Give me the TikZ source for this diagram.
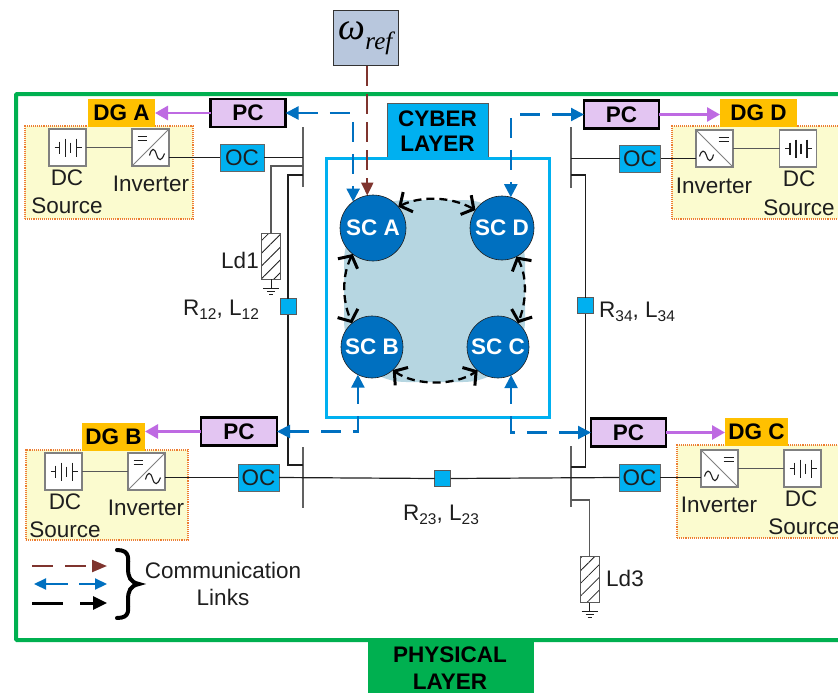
\documentclass[tikz,border=0pt]{standalone}
\usepackage{fontspec}
\setmainfont{Liberation Sans}
\newfontfamily\serifom{Liberation Serif}
\usetikzlibrary{arrows.meta,patterns.meta,calc}
\definecolor{grn}{HTML}{00B050}
\definecolor{cyn}{HTML}{00B0F0}
\definecolor{sc}{HTML}{0070C0}
\definecolor{blob}{HTML}{B6D6E1}
\definecolor{pur}{HTML}{BE6AE2}
\definecolor{pcfill}{HTML}{E3C5F2}
\definecolor{dgfill}{HTML}{FFC000}
\definecolor{yel}{HTML}{FBFBCF}
\definecolor{org}{HTML}{ED7D31}
\definecolor{brn}{HTML}{7F342E}
\definecolor{refbox}{HTML}{B8C7DD}
\definecolor{ink}{HTML}{1E1E1E}
\newcommand{\fsz}{\fontsize{22.5}{24}\selectfont}
\newcommand{\sbs}[1]{\raisebox{-3.5pt}{\fontsize{15.5}{16}\selectfont #1}}
\newcommand{\batt}[1]{%
  \begin{scope}[shift={(#1.center)},line width=1.1pt,draw=ink]
    \draw (-13,0) -- (-8,0) (-8,-6) -- (-8,6) (-2,-9) -- (-2,9) (3,-5) -- (3,5) (9,-9) -- (9,9) (9,0) -- (14,0);
  \end{scope}}
\newcommand{\invL}[1]{%
  \begin{scope}[shift={(#1.center)},line width=1pt,draw=ink]
    \draw[gray] (#1.south west) -- (#1.north east);
    \draw[line width=1.4pt] (-13,-11) -- (-4,-11) (-13,-7) -- (-4,-7);
    \draw[line width=1.1pt] (-1,8) .. controls (1,0) and (4,0) .. (6,7) .. controls (8,14) and (11,14) .. (14,6);
  \end{scope}}
\newcommand{\invR}[1]{%
  \begin{scope}[shift={(#1.center)},line width=1pt,draw=ink]
    \draw[gray] (#1.north west) -- (#1.south east);
    \draw[line width=1.4pt] (4,-11) -- (14,-11) (4,-7) -- (14,-7);
    \draw[line width=1.1pt] (-15,8) .. controls (-13,1) and (-10,1) .. (-8,7) .. controls (-6,14) and (-3,14) .. (-1,6);
  \end{scope}}
\newcommand{\gnd}[1]{%
  \draw[line width=.8pt,draw=ink] (#1.south) -- ++(0,9) ++(-8,0) -- ++(16,0) ++(-12,3) -- ++(8,0) ++(-6,3) -- ++(4,0);}
\tikzset{
  lbl/.style={font=\fsz,text=ink,inner sep=0pt},
  blbl/.style={font=\fsz\bfseries,text=black,inner sep=0pt,align=center},
  sqbox/.style={draw=gray,fill=white,line width=1.2pt,minimum size=37pt,inner sep=0pt,outer sep=0pt},
  ocbox/.style={draw=gray!80!black,fill=cyn,line width=.8pt,minimum width=41pt,minimum height=27pt,inner sep=0pt,outer sep=0pt,font=\fsz,text=ink},
  pcbox/.style={draw=black,fill=pcfill,line width=2.4pt,minimum width=75pt,minimum height=28pt,inner sep=0pt,outer sep=0pt,font=\fsz\bfseries,text=black},
  dgbox/.style={fill=dgfill,minimum height=28pt,inner sep=0pt,outer sep=0pt,font=\fsz\bfseries,text=black},
  scnode/.style={circle,draw=ink,fill=sc,line width=.6pt,inner sep=0pt,outer sep=0pt,font=\fsz\bfseries,text=white},
  yelbox/.style={draw=org,fill=yel,densely dotted,line width=1.1pt,inner sep=0pt,outer sep=0pt},
  smallsq/.style={draw=gray!70!black,fill=cyn,line width=.8pt,minimum size=16pt,inner sep=0pt,outer sep=0pt},
  loadbox/.style={draw=gray!70!black,line width=1pt,minimum width=19pt,minimum height=46pt,inner sep=0pt,outer sep=0pt,pattern={Lines[angle=45,distance=9pt,line width=.8pt]},pattern color=ink},
  wire/.style={draw=ink,line width=1.2pt},
  gwire/.style={draw=gray!70!black,line width=1.2pt},
  buswire/.style={draw=ink!70,line width=1.4pt},
  purarrow/.style={draw=pur,line width=2.8pt,-{Triangle[length=13pt,width=14pt]}},
  bluedash/.style={draw=sc,line width=2.2pt,dash pattern=on 20pt off 12pt,{Triangle[length=13pt,width=13pt]}-{Triangle[length=13pt,width=13pt]}},
  blackdash/.style={draw=black,line width=2.3pt,dash pattern=on 8pt off 5pt,{Straight Barb[length=9pt,width=22pt,line width=3pt]}-{Straight Barb[length=9pt,width=22pt,line width=3pt]}}
}
\begin{document}
\begin{tikzpicture}[x=1pt,y=-1pt]
\path[use as bounding box,clip] (0,0) rectangle (838,693);
% physical frame
\draw[grn,line width=4pt,rounded corners=1pt] (16,94) rectangle (860,640);
\node[fill=grn,minimum width=166pt,minimum height=53pt,inner sep=0pt,outer sep=0pt] (phys) at (451,666.5) {};
\node[blbl] (physt) at (450,668) {PHYSICAL\\[3pt]LAYER};
% omega
\node[draw=gray!40!black,fill=refbox,line width=1pt,minimum width=65pt,minimum height=55pt,inner sep=0pt,outer sep=0pt] (omega) at (365.5,38.5) {\serifom\itshape\raisebox{2pt}{\fontsize{38}{38}\selectfont ω}\raisebox{-8pt}{\fontsize{25}{25}\selectfont ref}};
% cyber layer
\node[draw=gray!70!black,fill=cyn,line width=.8pt,minimum width=101pt,minimum height=55pt,inner sep=0pt,outer sep=0pt] (cyb) at (437.5,130.5) {};
\node[blbl] at (437.5,131) {CYBER\\[1pt]LAYER};
\node[draw=cyn,fill=white,line width=3pt,minimum width=223pt,minimum height=259pt,inner sep=0pt,outer sep=0pt] (cframe) at (437.5,287.5) {};
\node[fill=blob,rounded corners=62pt,minimum width=181pt,minimum height=182pt,inner sep=0pt,outer sep=0pt] (blobn) at (434.5,291) {};
% yellow boxes
\node[yelbox,minimum width=168pt,minimum height=93pt] (yA) at (109,172.5) {};
\node[yelbox,minimum width=190pt,minimum height=93pt] (yD) at (767,172.5) {};
\node[yelbox,minimum width=162pt,minimum height=90pt] (yB) at (107,495) {};
\node[yelbox,minimum width=190pt,minimum height=93pt] (yC) at (772,491.5) {};
% DG boxes
\node[dgbox,minimum width=67pt] (dgA) at (121.5,113) {DG A};
\node[dgbox,minimum width=77pt] (dgD) at (758.5,113) {DG D};
\node[dgbox,minimum width=63pt] (dgB) at (113.5,437) {DG B};
\node[dgbox,minimum width=63pt] (dgC) at (756.5,431.5) {DG C};
% PC boxes
\node[pcbox] (pcA) at (248,113) {PC};
\node[pcbox] (pcD) at (621.5,114.5) {PC};
\node[pcbox,minimum width=76pt] (pcB) at (239,431.5) {PC};
\node[pcbox] (pcC) at (628.5,432.5) {PC};
\draw[purarrow] (pcA.west) -- (dgA.east);
\draw[purarrow] (pcD.east) -- (dgD.west |- pcD.east);
\draw[purarrow] (pcB.west) -- (dgB.east |- pcB.west);
\draw[purarrow] (pcC.east) -- (dgC.west |- pcC.east);
% source and inverter blocks
\node[sqbox] (dcA) at (67.5,147.5) {};
\node[sqbox] (invA) at (150.5,147.5) {};
\node[sqbox] (dcD) at (798,148.5) {};
\node[sqbox] (invD) at (714.5,148.5) {};
\node[sqbox] (dcB) at (63.5,471.5) {};
\node[sqbox] (invB) at (146.5,471.5) {};
\node[sqbox] (dcC) at (802.5,468.5) {};
\node[sqbox] (invC) at (719.5,468.5) {};
\batt{dcA}\batt{dcD}\batt{dcB}\batt{dcC}
\invL{invA}\invL{invB}\invR{invD}\invR{invC}
\draw[gwire] (dcA.east) -- (invA.west);
\draw[gwire] (dcD.west) -- (invD.east);
\draw[gwire] (dcB.east) -- (invB.west);
\draw[gwire] (dcC.west) -- (invC.east);
% OC
\node[ocbox,minimum width=44pt] (ocA) at (242,157.5) {OC};
\node[ocbox] (ocD) at (640,158.5) {OC};
\node[ocbox] (ocB) at (258.5,477.5) {OC};
\node[ocbox] (ocC) at (639.5,477.5) {OC};
% buses
\coordinate (busAt) at (303,127); \coordinate (busAb) at (303,187);
\coordinate (busDt) at (571,127); \coordinate (busDb) at (571,188);
\coordinate (busBt) at (303,447); \coordinate (busBb) at (303,508);
\coordinate (busCt) at (571,446); \coordinate (busCb) at (571,507);
\draw[buswire] (busAt) -- (busAb);
\draw[buswire] (busDt) -- (busDb);
\draw[buswire] (busBt) -- (busBb);
\draw[buswire] (busCt) -- (busCb);
\draw[wire] (invA.east |- ocA.west) -- (ocA.west);
\draw[wire] (ocA.east) -- (ocA.east -| busAt);
\draw[wire] (ocD.west) -- (ocD.west -| busDt);
\draw[wire] (ocD.east) -- (ocD.east -| invD.west);
\draw[wire] (invB.east |- ocB.west) -- (ocB.west);
\draw[wire] (invC.west |- ocC.east) -- (ocC.east);
% lines
\node[smallsq] (zAB) at (288,306.5) {};
\node[smallsq] (zDC) at (585.5,305.5) {};
\node[smallsq] (zBC) at (442.5,478.5) {};
\coordinate (jA) at (303,175); \coordinate (jB) at (303,465);
\coordinate (jD) at (571,175); \coordinate (jC) at (571,467);
\draw[wire] (jA) -| (zAB.north);
\draw[wire] (zAB.south) |- (jB);
\draw[wire] (jD) -| (zDC.north);
\draw[wire] (zDC.south) |- (jC);
\draw[wire] (ocB.east) -- (zBC.west);
\draw[wire] (zBC.east) -- (ocC.west);
% loads
\node[loadbox] (ld1) at (271,256) {};
\node[loadbox] (ld3) at (589.5,579.5) {};
\coordinate (jL1) at (303,166); \coordinate (jL3) at (571,500);
\draw[gwire] (jL1) -| (ld1.north);
\draw[gwire] (jL3) -| (ld3.north);
\gnd{ld1}\gnd{ld3}
% SC nodes
\node[scnode,minimum size=66pt] (scA) at (373,228) {SC A};
\node[scnode,minimum size=64pt] (scD) at (502,228) {SC D};
\node[scnode,minimum size=62pt] (scB) at (372,347) {SC B};
\node[scnode,minimum size=62pt] (scC) at (498,347) {SC C};
% communication
\draw[blackdash] (scA.40) .. controls (420,196) and (450,196) .. (scD.146);
\draw[blackdash] (scA.232) .. controls (342,275) and (342,300) .. (scB.130);
\draw[blackdash] (scD.-63) .. controls (527,275) and (527,300) .. (scC.50);
\draw[blackdash] (scB.-48) .. controls (415,386) and (455,386) .. (scC.229);
\draw[bluedash] (pcA.east) -| (scA.127);
\draw[bluedash] (pcD.west) -| (scD.74);
\draw[bluedash] (pcB.east) -| (scB.-117);
\draw[bluedash] (pcC.west) -| (scC.-65);
\draw[draw=brn,line width=2.3pt,dash pattern=on 20pt off 8pt,-{Triangle[length=13pt,width=12pt]}] (omega.south -| scA.100) -- (scA.100);
% labels
\node[lbl] at (67,178) {DC};
\node[lbl] at (67,206) {Source};
\node[lbl] at (151,184) {Inverter};
\node[lbl] at (714,186) {Inverter};
\node[lbl] at (799,179) {DC};
\node[lbl] at (799,208) {Source};
\node[lbl] at (65,502) {DC};
\node[lbl] at (65,530) {Source};
\node[lbl] at (146,508) {Inverter};
\node[lbl] at (719,505) {Inverter};
\node[lbl] at (801,499) {DC};
\node[lbl] at (804,527) {Source};
\node[lbl] at (240,260) {Ld1};
\node[lbl] at (625,578) {Ld3};
\node[lbl] at (221,310) {R\sbs{12}, L\sbs{12}};
\node[lbl] at (637,312) {R\sbs{34}, L\sbs{34}};
\node[lbl] at (441,515) {R\sbs{23}, L\sbs{23}};
% legend
\coordinate (lg1a) at (32,566); \coordinate (lg1b) at (107,566);
\coordinate (lg2a) at (34,584); \coordinate (lg2m) at (68,584); \coordinate (lg2n) at (79,584); \coordinate (lg2b) at (107,584);
\coordinate (lg3a) at (32,603); \coordinate (lg3m) at (63,603); \coordinate (lg3n) at (80,603); \coordinate (lg3b) at (107,603);
\draw[draw=brn,line width=2.2pt,dash pattern=on 21pt off 12pt,-{Triangle[length=15pt,width=12pt]}] (lg1a) -- (lg1b);
\draw[draw=sc,line width=2.2pt,{Triangle[length=12pt,width=11pt]}-] (lg2a) -- (lg2m);
\draw[draw=sc,line width=2.2pt,-{Triangle[length=12pt,width=11pt]}] (lg2n) -- (lg2b);
\draw[draw=black,line width=3pt] (lg3a) -- (lg3m);
\draw[draw=black,line width=3pt,-{Triangle[length=14pt,width=13pt]}] (lg3n) -- (lg3b);
\coordinate (brT) at (117,550); \coordinate (brM) at (139,584); \coordinate (brB) at (117,618);
\draw[line width=4pt,line cap=round,draw=black] (brT) .. controls (131,550) and (128,560) .. (128,568) .. controls (128,577) and (130,582) .. (brM) .. controls (130,586) and (128,591) .. (128,600) .. controls (128,609) and (131,618) .. (brB);
\node[lbl] at (223,570) {Communication};
\node[lbl] at (223,597) {Links};
\end{tikzpicture}
\end{document}
